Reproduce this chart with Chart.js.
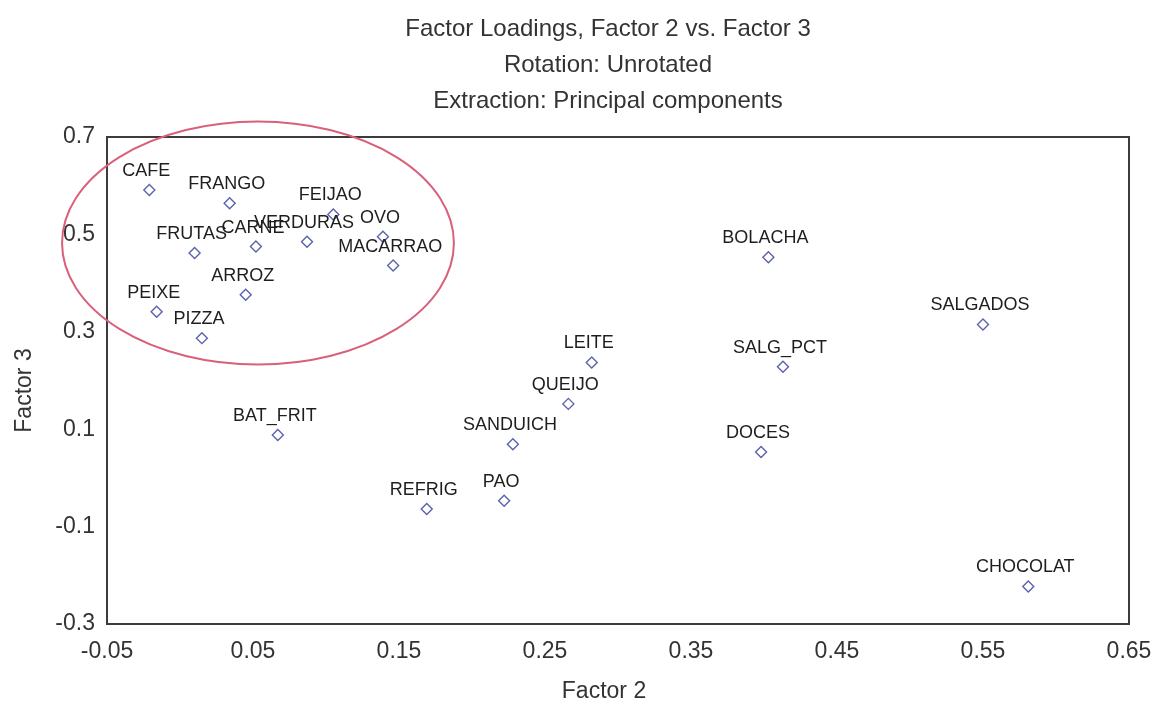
<!DOCTYPE html>
<html>
<head>
<meta charset="utf-8">
<title>Factor Loadings, Factor 2 vs. Factor 3</title>
<script src="https://cdn.jsdelivr.net/npm/chart.js@4/dist/chart.umd.min.js"></script>
<style>
  html, body { margin: 0; padding: 0; background: #ffffff; }
  #wrap { width: 1156px; height: 701px; position: relative; }
</style>
</head>
<body>
<div id="wrap"><canvas id="chart" width="1156" height="701"></canvas></div>
<script>
// Variables and their loadings on factors 2 and 3
const variableNames = ['CAFE', 'FRANGO', 'FEIJAO', 'VERDURAS', 'OVO', 'FRUTAS', 'CARNE', 'MACARRAO',
  'ARROZ', 'PEIXE', 'PIZZA', 'BAT_FRIT', 'LEITE', 'QUEIJO', 'SANDUICH', 'PAO', 'REFRIG',
  'BOLACHA', 'SALGADOS', 'SALG_PCT', 'DOCES', 'CHOCOLAT'];
const factor2 = [-0.021, 0.034, 0.105, 0.087, 0.139, 0.010, 0.052, 0.146,
  0.045, -0.016, 0.015, 0.067, 0.282, 0.266, 0.228, 0.222, 0.169,
  0.403, 0.550, 0.413, 0.398, 0.581];
const factor3 = [0.591, 0.564, 0.541, 0.485, 0.495, 0.462, 0.475, 0.436,
  0.376, 0.341, 0.287, 0.088, 0.237, 0.152, 0.069, -0.047, -0.064,
  0.453, 0.315, 0.228, 0.053, -0.223];

// Axis ticks
const xTicks = [-0.05, 0.05, 0.15, 0.25, 0.35, 0.45, 0.55, 0.65];
const yTicks = [-0.3, -0.1, 0.1, 0.3, 0.5, 0.7];

// Titles
const titleLines = ['Factor Loadings, Factor 2 vs. Factor 3', 'Rotation: Unrotated', 'Extraction: Principal components'];
const xTitle = 'Factor 2';
const yTitle = 'Factor 3';

// Highlighted group (ellipse in data units: center and half-axes)
const groupCenter = [0.0534, 0.4823];
const groupRadii = [0.1342, 0.2495];

const FONT = "'Liberation Sans', Arial, sans-serif";
const TEXT = '#333333';

const points = factor2.map((x, i) => ({ x: x, y: factor3[i] }));

const decorations = {
  id: 'decorations',
  afterDatasetsDraw(chart) {
    const ctx = chart.ctx;
    const a = chart.chartArea;
    const xs = chart.scales.x, ys = chart.scales.y;
    ctx.save();

    // frame around the plot area
    ctx.strokeStyle = '#3c3c3c';
    ctx.lineWidth = 2;
    ctx.strokeRect(a.left, a.top, a.right - a.left, a.bottom - a.top);

    // point labels
    ctx.fillStyle = '#1e1e1e';
    ctx.font = '18px ' + FONT;
    ctx.textAlign = 'center';
    ctx.textBaseline = 'middle';
    const meta = chart.getDatasetMeta(0);
    meta.data.forEach((pt, i) => {
      ctx.fillText(variableNames[i], pt.x - 3, pt.y - 19);
    });

    // ellipse around the first group
    const cx = xs.getPixelForValue(groupCenter[0]);
    const cy = ys.getPixelForValue(groupCenter[1]);
    const rx = Math.abs(xs.getPixelForValue(groupCenter[0] + groupRadii[0]) - cx);
    const ry = Math.abs(ys.getPixelForValue(groupCenter[1] + groupRadii[1]) - cy);
    ctx.beginPath();
    ctx.ellipse(cx, cy, rx, ry, 0, 0, Math.PI * 2);
    ctx.strokeStyle = '#d9607a';
    ctx.lineWidth = 2;
    ctx.stroke();

    // titles
    ctx.fillStyle = TEXT;
    ctx.textBaseline = 'alphabetic';
    ctx.font = '24px ' + FONT;
    const mid = 608;
    titleLines.forEach((t, i) => ctx.fillText(t, mid, 36 + i * 36));

    ctx.font = '23px ' + FONT;
    ctx.fillText(xTitle, (a.left + a.right) / 2 - 14, 698);
    ctx.translate(31, (a.top + a.bottom) / 2 + 10);
    ctx.rotate(-Math.PI / 2);
    ctx.fillText(yTitle, 0, 0);
    ctx.restore();
  }
};

new Chart(document.getElementById('chart'), {
  type: 'scatter',
  data: {
    datasets: [{
      data: points,
      pointStyle: 'rectRot',
      radius: 5.5,
      hoverRadius: 5.5,
      borderWidth: 1.4,
      borderColor: '#5b63ad',
      backgroundColor: '#ffffff'
    }]
  },
  options: {
    responsive: false,
    animation: false,
    events: [],
    layout: { padding: { top: 137, right: 27, left: 0, bottom: 0 } },
    plugins: { legend: { display: false }, tooltip: { enabled: false }, title: { display: false } },
    scales: {
      x: {
        type: 'linear',
        min: -0.05,
        max: 0.65,
        afterBuildTicks: s => { s.ticks = xTicks.map(v => ({ value: v })); },
        afterFit: s => { s.height = 77; s.paddingLeft = 0; s.paddingRight = 0; },
        grid: { display: false, drawTicks: false },
        border: { display: false },
        ticks: {
          color: TEXT,
          padding: 14,
          font: { family: FONT, size: 23 },
          callback: v => (Math.round(v * 100) / 100).toFixed(2)
        }
      },
      y: {
        type: 'linear',
        min: -0.3,
        max: 0.7,
        afterBuildTicks: s => { s.ticks = yTicks.map(v => ({ value: v })); },
        afterFit: s => { s.width = 107; s.paddingTop = 0; s.paddingBottom = 0; },
        grid: { display: false, drawTicks: false },
        border: { display: false },
        ticks: {
          color: TEXT,
          padding: 12,
          font: { family: FONT, size: 23 },
          callback: v => (Math.round(v * 10) / 10).toFixed(1)
        }
      }
    }
  },
  plugins: [decorations]
});
</script>
</body>
</html>
